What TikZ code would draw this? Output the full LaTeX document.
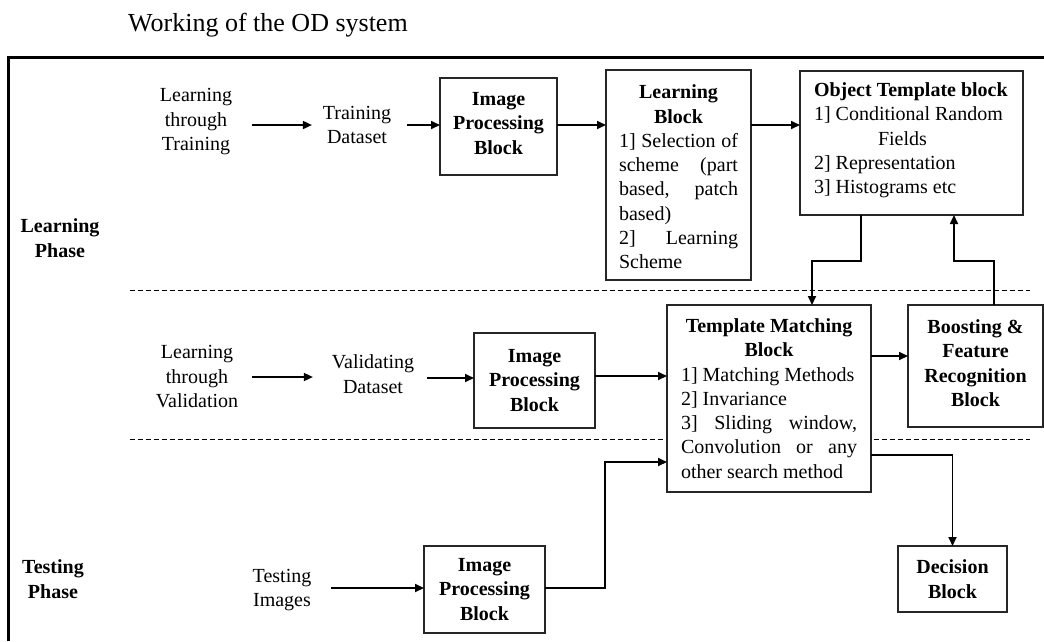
\documentclass[tikz,border=0pt]{standalone}
\usepackage{fontspec}
\setmainfont{Liberation Serif}
\usetikzlibrary{arrows.meta}
% line helpers for the multi-line block texts
\newlength\bw
\newcommand\cln[1]{\hbox to \bw{\hfil#1\hfil}}
\newcommand\lln[1]{\hbox to \bw{#1\hfil}}
\newcommand\jln[1]{\hbox to \bw{\spaceskip=0.25em plus 1fill\relax #1}}
\begin{document}
\begin{tikzpicture}[x=1pt,y=-1pt,
  every node/.style={font=\fontsize{20}{24.5}\selectfont, inner sep=0pt, outer sep=0pt, text=black},
  blk/.style={draw=black!85, line width=1.3pt, fill=white, align=center},
  bold/.style={font=\fontsize{20}{24.5}\selectfont\bfseries},
  lbl/.style={align=center},
  arr/.style={line width=1.7pt, -{Triangle[length=9pt,width=8pt]}},
  sep/.style={line width=0.9pt, dash pattern=on 5pt off 3pt}]
\useasboundingbox (0,0) rectangle (1044,641);
\fill[white] (0,0) rectangle (1044,641);

% heading and outer frame
\node[font=\fontsize{26}{30}\selectfont] (title) at (268,25) {Working of the OD system};
\draw[line width=3pt, line join=miter] (8.7,641) -- (8.7,57) -- (1044,57);

% phase separators
\draw[sep] (130,290) -- (1030,290);
\draw[sep] (130,439) -- (1030,439);

% phase names
\node[lbl, bold] (lp) at (60,238) {Learning\\Phase};
\node[lbl, bold] (tp) at (53,579) {Testing\\Phase};

% learning row
\node[lbl] (lt) at (196,122) {Learning\\through\\Training};
\node[lbl] (td) at (357,125) {Training\\Dataset};
\node[blk, bold, minimum width=117pt, minimum height=97pt] (ip1) at (498.5,126.5) {\setlength\bw{110pt}\vbox{\baselineskip=24.5pt
  \cln{Image}\cln{Processing}\cln{Block}\vskip 6pt}};
\node[blk, minimum width=145pt, minimum height=210pt] (lb) at (678.5,175) {\setlength\bw{119pt}\vbox{\baselineskip=24.3pt\vskip 4pt
  \cln{\bfseries Learning}\cln{\bfseries Block}\jln{1] Selection of}\jln{scheme (part}\jln{based, patch}\lln{based)}\jln{2] Learning}\lln{Scheme}}};
\node[blk, minimum width=223pt, minimum height=144pt] (ot) at (911.5,143) {\setlength\bw{195pt}\vbox{\baselineskip=24.3pt
  \lln{\bfseries Object Template block}\lln{1] Conditional Random}\lln{\hspace*{64pt}Fields}\lln{2] Representation}\lln{3] Histograms etc}\vskip 5pt}};

% validation row
\node[lbl] (lv) at (197,377) {Learning\\through\\Validation};
\node[lbl] (vd) at (373,374) {Validating\\Dataset};
\node[blk, bold, minimum width=121pt, minimum height=95pt] (ip2) at (534.5,380.5) {Image\\Processing\\Block};
\node[blk, minimum width=204pt, minimum height=187pt] (tm) at (769,398.5) {\setlength\bw{176pt}\vbox{\baselineskip=24.3pt
  \cln{\bfseries Template Matching}\cln{\bfseries Block}\lln{1] Matching Methods}\lln{2] Invariance}\jln{3] Sliding window,}\jln{Convolution or any}\lln{other search method}}};
\node[blk, bold, minimum width=135pt, minimum height=122pt] (bf) at (975.5,366) {\setlength\bw{125pt}\vbox{\baselineskip=24.5pt
  \cln{Boosting \&}\cln{Feature}\cln{Recognition}\cln{Block}\vskip 6pt}};

% testing row
\node[lbl] (ti) at (282,590) {Testing\\Images};
\node[blk, bold, minimum width=121pt, minimum height=87pt] (ip3) at (484.5,589.5) {Image\\Processing\\Block};
\node[blk, bold, minimum width=109pt, minimum height=66pt] (dec) at (952.5,579) {Decision\\Block};

% connectors
\draw[arr, shorten <=20pt, shorten >=11pt] (lt.east |- td.west) -- (td.west);
\draw[arr, shorten <=16pt] (td.east) -- (td.east -| ip1.west);
\draw[arr] (td.east -| ip1.east) -- (td.east -| lb.west);
\draw[arr] (td.east -| lb.east) -- (td.east -| ot.west);
\draw[arr] ([xshift=61pt]ot.south west) -- ++(0,46) -| ([xshift=145pt]tm.north west);
\draw[arr] ([xshift=86pt]bf.north west) -- ++(0,-44) -| ([xshift=154pt]ot.south west);

\draw[arr, shorten <=14pt, shorten >=19pt] (lv.east) -- (lv.east -| vd.west);
\draw[arr, shorten <=13pt] ([yshift=2.5pt]ip2.west -| vd.east) -- ([yshift=2.5pt]ip2.west);
\draw[arr] ([yshift=4.5pt]ip2.east) -- ([yshift=4.5pt]ip2.east -| tm.west);
\draw[arr] ([yshift=10pt]bf.west -| tm.east) -- ([yshift=10pt]bf.west);
\draw[arr] ([yshift=-56.5pt]tm.east) -| (dec.north);

\draw[arr, shorten <=20pt] ([yshift=1.5pt]ip3.west -| ti.east) -- ([yshift=1.5pt]ip3.west);
\draw[arr] ([yshift=1.5pt]ip3.east) -- ++(60,0) |- ([yshift=-63.5pt]tm.west);
\end{tikzpicture}
\end{document}
